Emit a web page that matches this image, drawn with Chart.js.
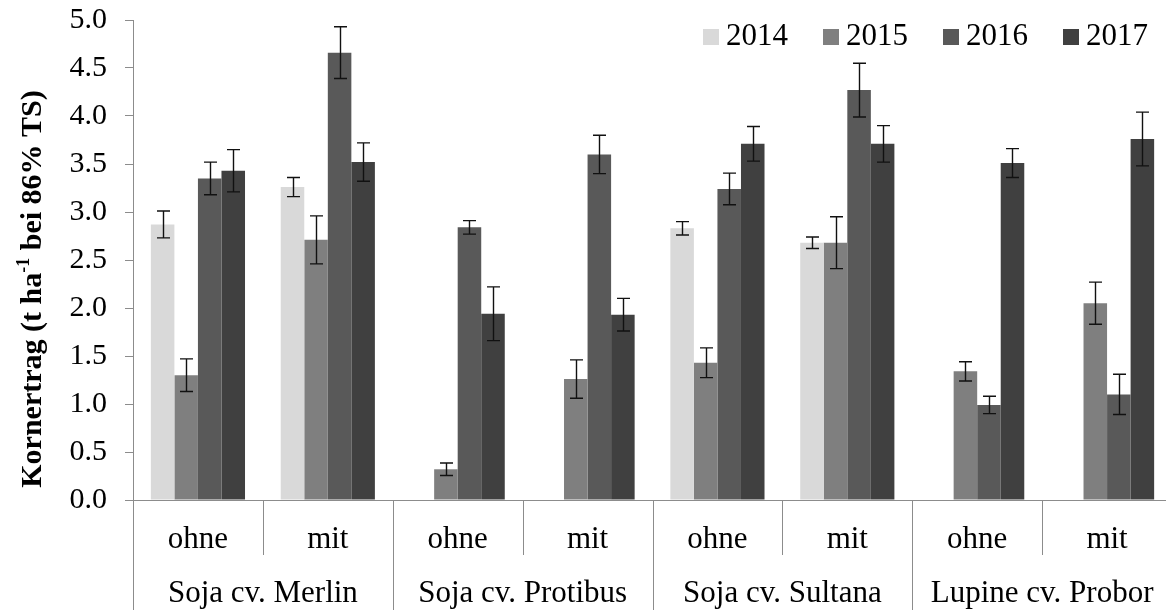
<!DOCTYPE html>
<html lang="de">
<head>
    <meta charset="UTF-8">
    <title>Kornertrag</title>
    <script src="https://cdn.jsdelivr.net/npm/chart.js@4.4.1/dist/chart.umd.min.js"></script>
    <style>
        body, html {
            margin: 0;
            padding: 0;
            overflow: hidden;
            background: #fff;
        }
        canvas {
            display: block;
        }
    </style>
</head>
<body>
    <canvas id="yieldChart" width="1180" height="610"></canvas>

    <script>
        // Kategorien
        const treatments = ['ohne', 'mit', 'ohne', 'mit', 'ohne', 'mit', 'ohne', 'mit'];
        const varieties = ['Soja cv. Merlin', 'Soja cv. Protibus', 'Soja cv. Sultana', 'Lupine cv. Probor'];
        const years = ['2014', '2015', '2016', '2017'];

        // Mittelwerte (t/ha)
        const yield2014 = [2.87, 3.26, null, null, 2.83, 2.68, null, null];
        const yield2015 = [1.30, 2.71, 0.32, 1.26, 1.43, 2.68, 1.34, 2.05];
        const yield2016 = [3.35, 4.66, 2.84, 3.60, 3.24, 4.27, 0.99, 1.10];
        const yield2017 = [3.43, 3.52, 1.94, 1.93, 3.71, 3.71, 3.51, 3.76];

        // Standardfehler
        const err2014 = [0.14, 0.10, null, null, 0.07, 0.06, null, null];
        const err2015 = [0.17, 0.25, 0.065, 0.20, 0.155, 0.27, 0.10, 0.22];
        const err2016 = [0.17, 0.27, 0.07, 0.20, 0.165, 0.28, 0.09, 0.21];
        const err2017 = [0.22, 0.20, 0.28, 0.17, 0.18, 0.19, 0.15, 0.28];

        // Achse
        const yTicks = [0, 0.5, 1, 1.5, 2, 2.5, 3, 3.5, 4, 4.5, 5];

        const colors = ['#d9d9d9', '#7f7f7f', '#595959', '#404040'];
        const axisColor = '#8c8c8c';
        const serif = "'Liberation Serif', 'Times New Roman', serif";

        // Fehlerbalken
        const errorBars = {
            id: 'errorBars',
            afterDatasetsDraw(chart) {
                const ctx = chart.ctx;
                const y = chart.scales.y;
                ctx.save();
                ctx.strokeStyle = '#111';
                ctx.lineWidth = 1.4;
                chart.data.datasets.forEach((ds, i) => {
                    const meta = chart.getDatasetMeta(i);
                    meta.data.forEach((bar, j) => {
                        const v = ds.data[j];
                        const e = ds.errors[j];
                        if (v === null || e === null) return;
                        const top = y.getPixelForValue(v + e);
                        const bot = y.getPixelForValue(v - e);
                        const x = Math.round(bar.x) + 0.5;
                        ctx.beginPath();
                        ctx.moveTo(x, top);
                        ctx.lineTo(x, bot);
                        ctx.moveTo(x - 6.5, top);
                        ctx.lineTo(x + 6.5, top);
                        ctx.moveTo(x - 6.5, bot);
                        ctx.lineTo(x + 6.5, bot);
                        ctx.stroke();
                    });
                });
                ctx.restore();
            }
        };

        // zweistufige x-Achse, Legende und y-Titel
        const decorations = {
            id: 'decorations',
            afterDraw(chart) {
                const ctx = chart.ctx;
                const xs = chart.scales.x;
                const area = chart.chartArea;
                const n = treatments.length;

                ctx.save();
                ctx.strokeStyle = axisColor;
                ctx.lineWidth = 1;
                for (let k = 0; k <= n; k++) {
                    let bx;
                    if (k === 0) bx = area.left;
                    else if (k === n) bx = area.right;
                    else bx = (xs.getPixelForValue(k - 1) + xs.getPixelForValue(k)) / 2;
                    bx = Math.round(bx) + 0.5;
                    ctx.beginPath();
                    ctx.moveTo(bx, area.bottom);
                    ctx.lineTo(bx, k % 2 === 0 ? chart.height : area.bottom + 55);
                    ctx.stroke();
                }

                ctx.fillStyle = '#000';
                ctx.textAlign = 'center';
                ctx.textBaseline = 'alphabetic';
                ctx.font = '31px ' + serif;
                treatments.forEach((t, i) => {
                    ctx.fillText(t, xs.getPixelForValue(i), area.bottom + 48);
                });
                varieties.forEach((v, g) => {
                    const cx = (xs.getPixelForValue(2 * g) + xs.getPixelForValue(2 * g + 1)) / 2;
                    ctx.fillText(v, cx, area.bottom + 102);
                });

                // Legende
                ctx.textAlign = 'left';
                ctx.font = '31px ' + serif;
                chart.data.datasets.forEach((ds, i) => {
                    const lx = 703 + 120 * i;
                    ctx.fillStyle = ds.backgroundColor;
                    ctx.fillRect(lx, 29, 16, 16);
                    ctx.fillStyle = '#000';
                    ctx.fillText(ds.label, lx + 23, 45);
                });

                // y-Achsentitel mit Hochzahl
                const part1 = 'Kornertrag (t ha';
                const sup = '-1';
                const part2 = ' bei 86% TS)';
                const big = 'bold 30px ' + serif;
                const small = 'bold 18px ' + serif;
                ctx.font = big;
                const w1 = ctx.measureText(part1).width;
                const w3 = ctx.measureText(part2).width;
                ctx.font = small;
                const w2 = ctx.measureText(sup).width;
                const total = w1 + w2 + w3;
                ctx.translate(41, 289);
                ctx.rotate(-Math.PI / 2);
                let px = -total / 2;
                ctx.font = big;
                ctx.fillText(part1, px, 0);
                px += w1;
                ctx.font = small;
                ctx.fillText(sup, px, -12);
                px += w2;
                ctx.font = big;
                ctx.fillText(part2, px, 0);
                ctx.restore();
            }
        };

        const seriesValues = [yield2014, yield2015, yield2016, yield2017];
        const seriesErrors = [err2014, err2015, err2016, err2017];

        const ctx = document.getElementById('yieldChart').getContext('2d');
        new Chart(ctx, {
            type: 'bar',
            data: {
                labels: treatments,
                datasets: years.map((yr, i) => ({
                    label: yr,
                    data: seriesValues[i],
                    errors: seriesErrors[i],
                    backgroundColor: colors[i],
                    borderWidth: 0,
                    categoryPercentage: 0.725,
                    barPercentage: 1.0
                }))
            },
            options: {
                responsive: false,
                animation: false,
                devicePixelRatio: 1,
                layout: {
                    padding: { top: 20, right: 8, left: 0, bottom: 0 }
                },
                plugins: {
                    legend: { display: false },
                    tooltip: { enabled: false }
                },
                scales: {
                    x: {
                        grid: { display: false },
                        border: { display: true, color: axisColor, width: 1 },
                        ticks: { display: false },
                        afterFit(scale) { scale.height = 110; }
                    },
                    y: {
                        min: 0,
                        max: 5,
                        afterBuildTicks(scale) {
                            scale.ticks = yTicks.map(v => ({ value: v }));
                        },
                        grid: {
                            drawOnChartArea: false,
                            drawTicks: true,
                            tickLength: 8,
                            color: axisColor
                        },
                        border: { display: true, color: axisColor, width: 1 },
                        ticks: {
                            color: '#000',
                            padding: 18,
                            font: { family: serif, size: 30 },
                            callback: v => v.toFixed(1)
                        },
                        afterFit(scale) {
                            scale.width = 133;
                            scale.paddingTop = 0;
                            scale.paddingBottom = 0;
                        }
                    }
                }
            },
            plugins: [errorBars, decorations]
        });
    </script>
</body>
</html>
